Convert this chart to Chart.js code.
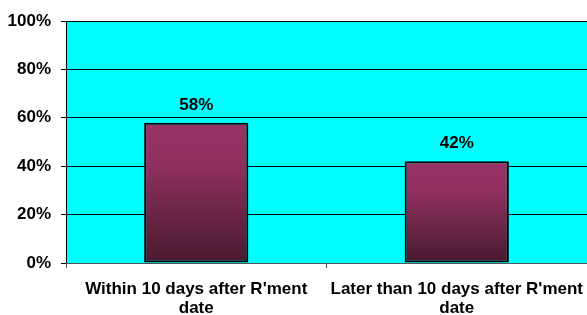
<!DOCTYPE html>
<html>
<head>
<meta charset="utf-8">
<script src="https://cdn.jsdelivr.net/npm/chart.js@4"></script>
<style>
  html, body { margin: 0; padding: 0; background: #fff; }
  #wrap { width: 587px; height: 315px; }
</style>
</head>
<body>
<div id="wrap"><canvas id="c" width="587" height="315"></canvas></div>
<script>
const categories = [
  ['Within 10 days after R\'ment', 'date'],
  ['Later than 10 days after R\'ment', 'date']
];
const shares = [58, 42];
const tickValues = [0, 20, 40, 60, 80, 100];

const FONT = '"Liberation Sans", Arial, sans-serif';

// cyan plot area behind everything
const plotBgPlugin = {
  id: 'plotBg',
  beforeDraw(chart) {
    const { ctx, chartArea } = chart;
    ctx.save();
    ctx.fillStyle = '#00FFFF';
    ctx.fillRect(chartArea.left, chartArea.top, chartArea.right - chartArea.left, chartArea.bottom - chartArea.top);
    ctx.restore();
  }
};

// value labels above the bars
const valueLabelPlugin = {
  id: 'valueLabels',
  afterDatasetsDraw(chart) {
    const { ctx } = chart;
    const meta = chart.getDatasetMeta(0);
    ctx.save();
    ctx.font = 'bold 17px ' + FONT;
    ctx.fillStyle = '#000';
    ctx.textAlign = 'center';
    ctx.textBaseline = 'alphabetic';
    meta.data.forEach((bar, i) => {
      ctx.fillText(shares[i] + '%', bar.x, bar.y - 13);
    });
    ctx.restore();
  }
};

function barGradient(context) {
  const chart = context.chart;
  const { ctx, chartArea, scales } = chart;
  if (!chartArea || context.dataIndex === undefined) return '#993366';
  const top = scales.y.getPixelForValue(shares[context.dataIndex]);
  const bottom = scales.y.getPixelForValue(0);
  const g = ctx.createLinearGradient(0, top, 0, bottom);
  g.addColorStop(0, '#993366');
  g.addColorStop(0.3, '#8f305f');
  g.addColorStop(0.7, '#662442');
  g.addColorStop(1, '#481a30');
  return g;
}

new Chart(document.getElementById('c').getContext('2d'), {
  type: 'bar',
  data: {
    labels: categories,
    datasets: [{
      data: shares,
      backgroundColor: barGradient,
      borderColor: '#000',
      borderWidth: 2,
      borderSkipped: false,
      categoryPercentage: 0.4,
      barPercentage: 1.0
    }]
  },
  options: {
    responsive: false,
    animation: false,
    devicePixelRatio: 1,
    layout: { padding: { top: 21, right: 0, left: 0, bottom: 0 } },
    plugins: {
      legend: { display: false },
      tooltip: { enabled: false }
    },
    scales: {
      y: {
        min: 0,
        max: 100,
        afterFit(scale) { scale.width = 66; },
        afterBuildTicks(scale) { scale.ticks = tickValues.map(v => ({ value: v })); },
        ticks: {
          callback: v => v + '%',
          color: '#000',
          padding: 10,
          font: { family: FONT, size: 17, weight: 'bold' }
        },
        grid: {
          color: ctx => (ctx.tick && ctx.tick.value === 0 ? '#555' : '#000'),
          lineWidth: 1,
          tickLength: 5,
          tickColor: '#000'
        },
        border: { color: '#000', width: 1 }
      },
      x: {
        afterFit(scale) {
          scale.height = 52;
          scale.paddingLeft = 0;
          scale.paddingRight = 0;
        },
        ticks: {
          color: '#000',
          padding: 12,
          maxRotation: 0,
          font: { family: FONT, size: 17, weight: 'bold', lineHeight: 1.1 }
        },
        grid: {
          drawOnChartArea: false,
          offset: true,
          tickLength: 5,
          color: '#555'
        },
        border: { color: '#555', width: 1 }
      }
    }
  },
  plugins: [plotBgPlugin, valueLabelPlugin]
});
</script>
</body>
</html>
